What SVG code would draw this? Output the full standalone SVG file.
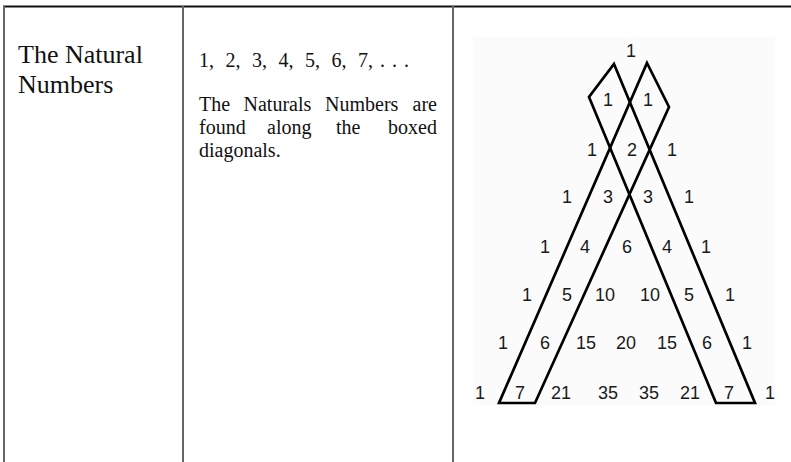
<svg xmlns="http://www.w3.org/2000/svg" width="791" height="462" viewBox="0 0 791 462">
<style>
.serif{font-family:"Liberation Serif","Times New Roman",serif;fill:#111}
.big{font-size:26px}
.mid{font-size:20px}
.num{font-family:"Liberation Sans",Arial,sans-serif;font-size:18px;fill:#1a1a1a;text-anchor:middle}
.vline{stroke:#666;stroke-width:2}
.strip{fill:none;stroke:#000;stroke-width:2.7;stroke-linejoin:miter}
</style>
<rect width="791" height="462" fill="#fff"/>
<g id="table">
<line x1="3" y1="6.5" x2="791" y2="6.5" stroke="#111" stroke-width="2"/>
<line class="vline" x1="4" y1="6" x2="4" y2="462"/>
<line class="vline" x1="183" y1="6" x2="183" y2="462"/>
<line class="vline" x1="453" y1="6" x2="453" y2="462"/>
</g>
<g id="title">
<text class="serif big" x="18" y="63">The Natural</text>
<text class="serif big" x="18" y="93">Numbers</text>
</g>
<g id="description">
<text class="serif mid" y="67"><tspan x="199">1,</tspan><tspan x="225.5">2,</tspan><tspan x="252">3,</tspan><tspan x="278.5">4,</tspan><tspan x="305">5,</tspan><tspan x="331.5">6,</tspan><tspan x="358">7,</tspan><tspan x="380">.</tspan><tspan x="392">.</tspan><tspan x="404">.</tspan></text>
<text class="serif mid" y="111"><tspan x="199">The</tspan><tspan x="243.5">Naturals</tspan><tspan x="325">Numbers</tspan><tspan x="437" text-anchor="end">are</tspan></text>
<text class="serif mid" y="134"><tspan x="199">found</tspan><tspan x="267">along</tspan><tspan x="336">the</tspan><tspan x="437" text-anchor="end">boxed</tspan></text>
<text class="serif mid" x="199" y="157">diagonals.</text>
</g>
<g id="triangle">
<rect x="473" y="37" width="302" height="368" fill="#fbfbfb"/>
<g id="strips">
<polygon class="strip" points="614,64 755,403 716,403 589,97"/>
<polygon class="strip" points="647,63 669,107 535,403 499,403"/>
</g>
<g id="numbers">
<text class="num" x="631" y="57">1</text>
<text class="num" x="608" y="106">1</text><text class="num" x="648" y="106">1</text>
<text class="num" x="592" y="156">1</text><text class="num" x="632" y="156">2</text><text class="num" x="672" y="156">1</text>
<text class="num" x="567" y="203">1</text><text class="num" x="608" y="203">3</text><text class="num" x="648" y="203">3</text><text class="num" x="689" y="203">1</text>
<text class="num" x="545" y="253">1</text><text class="num" x="585" y="253">4</text><text class="num" x="627" y="253">6</text><text class="num" x="667" y="253">4</text><text class="num" x="706" y="253">1</text>
<text class="num" x="527" y="301">1</text><text class="num" x="567" y="301">5</text><text class="num" x="605" y="301">10</text><text class="num" x="650" y="301">10</text><text class="num" x="689" y="301">5</text><text class="num" x="730" y="301">1</text>
<text class="num" x="503" y="349">1</text><text class="num" x="545" y="349">6</text><text class="num" x="586" y="349">15</text><text class="num" x="626" y="349">20</text><text class="num" x="667" y="349">15</text><text class="num" x="707" y="349">6</text><text class="num" x="747" y="349">1</text>
<text class="num" x="480" y="399">1</text><text class="num" x="520" y="399">7</text><text class="num" x="561" y="399">21</text><text class="num" x="608" y="399">35</text><text class="num" x="649" y="399">35</text><text class="num" x="690" y="399">21</text><text class="num" x="729" y="399">7</text><text class="num" x="770" y="399">1</text>
</g>
</g>
</svg>
